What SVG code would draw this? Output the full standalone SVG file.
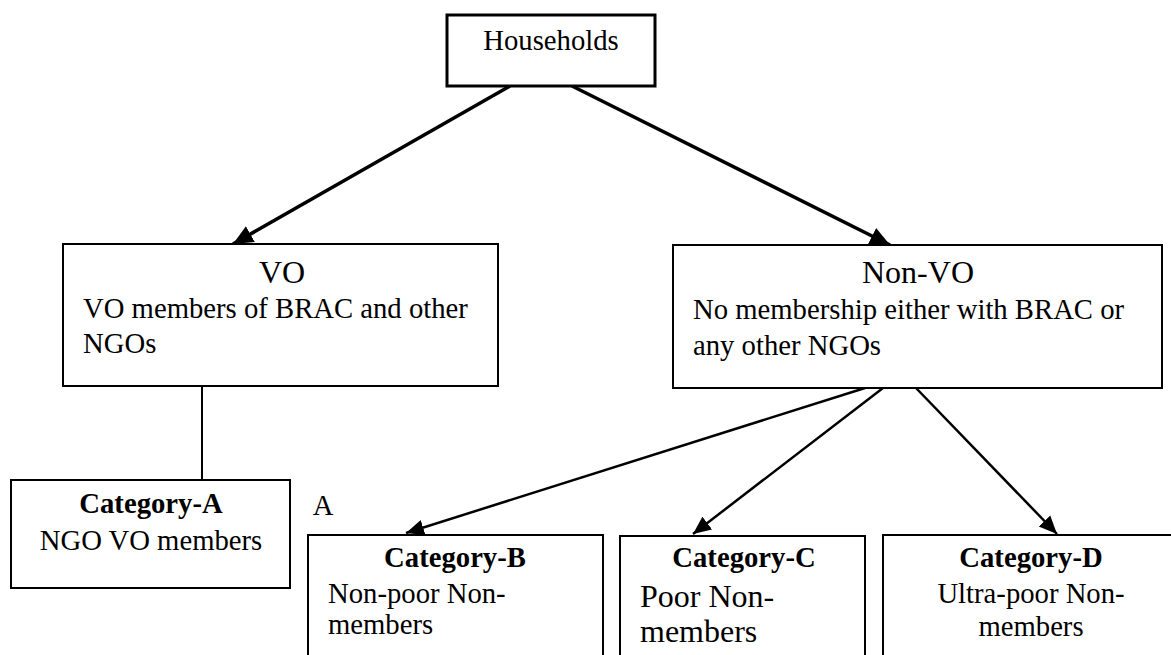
<svg xmlns="http://www.w3.org/2000/svg" width="1171" height="655" viewBox="0 0 1171 655">
<style>
.box{fill:#fff;stroke:#000;stroke-width:2}
.thick{stroke-width:3}
text{font-family:"Liberation Serif","Times New Roman",serif;font-size:28.7px;fill:#000}
.b{font-weight:bold}
.c{text-anchor:middle}
.big{font-size:32px}
.title{font-size:32px}
.con{stroke:#000;fill:none}
</style>
<defs>
<marker id="ah" markerUnits="userSpaceOnUse" markerWidth="22" markerHeight="20" refX="20" refY="10" orient="auto">
<path d="M0,1 L20,10 L0,19 z" fill="#000"/>
</marker>
<marker id="ahs" markerUnits="userSpaceOnUse" markerWidth="20" markerHeight="18" refX="18" refY="9" orient="auto">
<path d="M0,1 L18,9 L0,17 z" fill="#000"/>
</marker>
</defs>
<rect width="1171" height="655" fill="#fff"/>
<g id="connectors">
<line class="con" x1="510" y1="86" x2="233" y2="244" stroke-width="3.5" marker-end="url(#ah)"/>
<line class="con" x1="572" y1="86" x2="890" y2="245" stroke-width="3.5" marker-end="url(#ah)"/>
<line class="con" x1="202" y1="386" x2="202" y2="480" stroke-width="2"/>
<line class="con" x1="865" y1="388" x2="406" y2="533" stroke-width="2.5" marker-end="url(#ahs)"/>
<line class="con" x1="883" y1="388" x2="693" y2="534" stroke-width="2.5" marker-end="url(#ahs)"/>
<line class="con" x1="916" y1="388" x2="1057" y2="534" stroke-width="2.5" marker-end="url(#ahs)"/>
</g>
<g id="households">
<rect class="box thick" x="447" y="15" width="208" height="71"/>
<text class="c" x="551" y="50">Households</text>
</g>
<g id="vo">
<rect class="box" x="63" y="244" width="435" height="142"/>
<text class="c title" x="282" y="283">VO</text>
<text x="83" y="318">VO members of BRAC and other</text>
<text x="83" y="353">NGOs</text>
</g>
<g id="nonvo">
<rect class="box" x="673" y="245" width="489" height="143"/>
<text class="c title" x="918" y="283">Non-VO</text>
<text x="693" y="319">No membership either with BRAC or</text>
<text x="693" y="355">any other NGOs</text>
</g>
<g id="catA">
<rect class="box" x="11" y="480" width="279" height="108"/>
<text class="c b" x="151" y="513">Category-A</text>
<text class="c" x="151" y="550">NGO VO members</text>
</g>
<g id="labelA">
<text class="c" x="323" y="515">A</text>
</g>
<g id="catB">
<rect class="box" x="308" y="535" width="295" height="130"/>
<text class="c b" x="455" y="567">Category-B</text>
<text x="328" y="603">Non-poor Non-</text>
<text x="328" y="634">members</text>
</g>
<g id="catC">
<rect class="box" x="620" y="536" width="245" height="130"/>
<text class="c b" x="744" y="567">Category-C</text>
<text class="big" x="640" y="607">Poor Non-</text>
<text class="big" x="640" y="642">members</text>
</g>
<g id="catD">
<rect class="box" x="883" y="535" width="297" height="130"/>
<text class="c b" x="1031" y="567">Category-D</text>
<text class="c" x="1031" y="603">Ultra-poor Non-</text>
<text class="c" x="1031" y="636">members</text>
</g>
</svg>
